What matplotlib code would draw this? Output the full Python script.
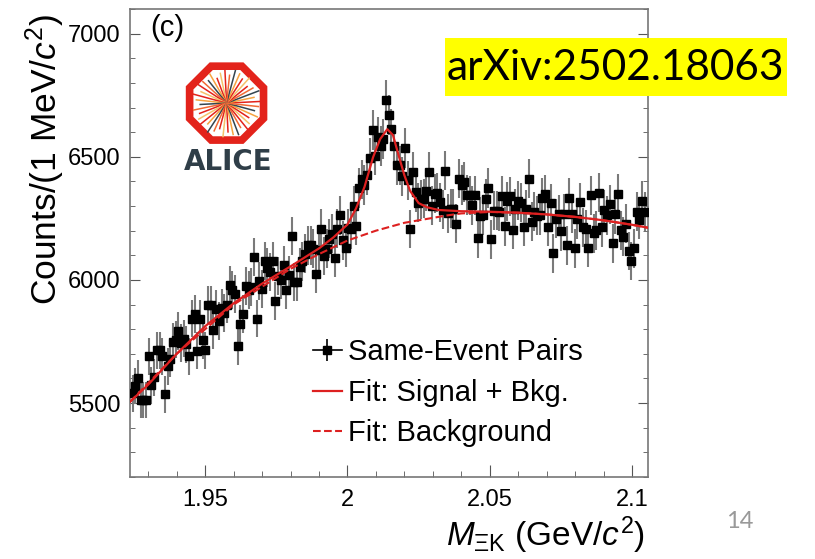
import numpy as np
import matplotlib
matplotlib.use("Agg")
import matplotlib.pyplot as plt
from matplotlib.lines import Line2D
from matplotlib.patches import RegularPolygon, Rectangle

# Same-event pair counts per bin (1 MeV/c^2), left to right
counts_a = [5539, 5569, 5600, 5512, 5512, 5512, 5690, 5573, 5604, 5715, 5715,
            5690, 5536, 5650, 5681, 5748, 5758, 5792, 5744, 5762, 5739, 5690,
            5843, 5863, 5712, 5843, 5755, 5715, 5900, 5900, 5796, 5884, 5833]
counts_b = [5888, 5866, 5900, 5978, 5958, 5942, 5731, 5820, 5863, 5975, 5961,
            5972, 6093, 5843, 5996, 5965, 6077, 6050, 6032, 6077, 5915, 6015,
            6001, 6059, 5961, 6019, 6178, 5992, 5992, 6052]
counts_c = [6075, 6107, 6140, 6140, 6127, 6026, 6120, 6208, 6097, 6127, 6168,
            6188, 6089, 6208, 6262, 6161, 6129, 6210, 6205, 6300, 6221, 6373,
            6408, 6386, 6427, 6494, 6607, 6505, 6579, 6543, 6574, 6731, 6670,
            6611, 6542, 6465, 6465, 6420, 6537, 6404, 6207, 6440, 6357, 6314,
            6328, 6330, 6360, 6438, 6302, 6350, 6355, 6316, 6285, 6444, 6270,
            6289, 6290, 6228, 6411, 6385, 6397]
counts_d = [6345, 6343, 6303, 6343, 6169, 6258, 6262, 6330, 6373, 6165, 6280,
            6280, 6276, 6341, 6217, 6319, 6339, 6204, 6290, 6322, 6314, 6216,
            6287, 6411, 6237, 6277, 6260, 6262, 6334, 6347, 6215, 6312, 6108,
            6249, 6266, 6198, 6269, 6140, 6333, 6268, 6128, 6247, 6316, 6213,
            6206, 6130, 6343, 6190, 6201, 6354, 6213, 6285, 6262, 6308, 6149,
            6266, 6350, 6201, 6175, 6228, 6117, 6077, 6128, 6276, 6245, 6322,
            6276]
counts = np.array(counts_a + counts_b + counts_c + counts_d, dtype=float)
mass_first, mass_last = 1.9245, 2.1045

# Fit: signal + background
fit_mass = [1.9236, 1.930, 1.940, 1.950, 1.960, 1.970, 1.980, 1.990, 1.995,
            2.000, 2.003, 2.006, 2.009, 2.0115, 2.014, 2.016, 2.018, 2.020,
            2.022, 2.025, 2.028, 2.032, 2.040, 2.050, 2.060, 2.070, 2.080,
            2.090, 2.100, 2.1056]
fit_total = [5505, 5575, 5700, 5812, 5905, 5985, 6055, 6128, 6172, 6225, 6290,
             6378, 6498, 6572, 6612, 6588, 6505, 6425, 6362, 6312, 6295, 6284,
             6279, 6277, 6273, 6266, 6256, 6242, 6224, 6212]

# Fit: background only
bkg_mass = [1.9236, 1.940, 1.960, 1.980, 1.990, 2.000, 2.010, 2.020, 2.030,
            2.035, 2.040, 2.050, 2.060, 2.070, 2.080, 2.090, 2.100, 2.1056]
bkg_vals = [5505, 5700, 5900, 6045, 6105, 6160, 6200, 6232, 6252, 6262, 6270,
            6276, 6273, 6266, 6256, 6242, 6224, 6212]

x_ticks = [1.95, 2.0, 2.05, 2.1]
x_ticklabels = ["1.95", "2", "2.05", "2.1"]
y_ticks = [5500, 6000, 6500, 7000]

fit_red = "#dd2020"

plt.rcParams["font.family"] = ["Liberation Sans", "DejaVu Sans"]
plt.rcParams["mathtext.fontset"] = "custom"
plt.rcParams["mathtext.rm"] = "Liberation Sans"
plt.rcParams["mathtext.it"] = "Liberation Sans:italic"

fig = plt.figure(figsize=(8.15, 5.59), dpi=100)
ax = fig.add_axes([0.1595, 0.1467, 0.6356, 0.8372])

mass = np.linspace(mass_first, mass_last, len(counts))
ax.errorbar(mass, counts, yerr=np.sqrt(counts), fmt="s", color="black", ms=5.5,
            ecolor="#7a7a7a", elinewidth=1.5, capsize=0, zorder=3)
ax.plot(bkg_mass, bkg_vals, "--", color=fit_red, lw=1.5, zorder=4)
ax.plot(fit_mass, fit_total, "-", color=fit_red, lw=1.6, zorder=5)

ax.set_xlim(1.9236, 2.1056)
ax.set_ylim(5200, 7100)
ax.set_xticks(x_ticks)
ax.set_xticklabels(x_ticklabels)
ax.set_yticks(y_ticks)
ax.xaxis.set_minor_locator(matplotlib.ticker.MultipleLocator(0.01))
ax.yaxis.set_minor_locator(matplotlib.ticker.MultipleLocator(100))

ax.tick_params(axis="both", which="both", direction="in", right=True, top=False,
               color="#555555", labelsize=17)
ax.tick_params(axis="x", which="major", length=9, pad=9)
ax.tick_params(axis="x", which="minor", length=4.5)
ax.tick_params(axis="y", which="major", length=7, pad=7)
ax.tick_params(axis="y", which="minor", length=3.5)
for sp in ax.spines.values():
    sp.set_color("#777777")
    sp.set_linewidth(1.2)

ax.set_xlabel(r"$M_{\mathrm{\Xi K}}$ (GeV/$c^{2}$)", fontsize=24, loc="right")
ax.xaxis.set_label_coords(0.995, -0.08)
ax.set_ylabel(r"Counts/(1 MeV/$c^{2}$)", fontsize=25.5, loc="top")
ax.yaxis.set_label_coords(-0.122, 0.99)

h_data = (Line2D([], [], color="black", lw=1.2),
          Line2D([], [], color="black", marker="|", ms=16, mew=1.2, ls="none"),
          Line2D([], [], color="black", marker="s", ms=5.5, ls="none"))
h_fit = Line2D([], [], color=fit_red, lw=1.6)
h_bkg = Line2D([], [], color=fit_red, lw=1.5, ls="--")
ax.legend([h_data, h_fit, h_bkg],
          ["Same-Event Pairs", "Fit: Signal + Bkg.", "Fit: Background"],
          loc="upper left", bbox_to_anchor=(0.353, 0.296), frameon=False,
          fontsize=21, handlelength=1.0, handletextpad=0.2, labelspacing=0.42,
          borderpad=0, borderaxespad=0)

fig.text(150 / 815, 1 - 28 / 559, "(c)", fontsize=21, ha="left", va="center")

# ALICE logo
ax_logo = fig.add_axes([0.225, 0.738, 0.106, 0.155])
ax_logo.set_xlim(-1.08, 1.08)
ax_logo.set_ylim(-1.08, 1.08)
ax_logo.set_aspect("equal")
ax_logo.axis("off")
ax_logo.add_patch(RegularPolygon((0, 0), 8, radius=1.0, orientation=np.pi / 8,
                                 fc="white", ec="#e3231b", lw=5.5))
ray_colors = ["#e3231b", "#f5a340", "#34454f", "#f06a35", "#e3231b", "#f5c16a"]
ray_len = [0.84, 0.70, 0.86, 0.76, 0.66, 0.84, 0.72, 0.80]
for i, a in enumerate(np.linspace(0, 2 * np.pi, 40, endpoint=False)):
    r = ray_len[i % len(ray_len)]
    ax_logo.plot([0, r * np.cos(a + 0.05)], [0, r * np.sin(a + 0.05)],
                 color=ray_colors[i % len(ray_colors)], lw=1.1)
fig.text(228 / 815, 1 - 162 / 559, "ALICE", fontsize=20, weight="bold",
         family="DejaVu Sans", color="#2f3e48", ha="center", va="center")

# arXiv tag and slide number
fig.patches.append(Rectangle((445 / 815, 1 - 96 / 559), 342 / 815, 58 / 559,
                             transform=fig.transFigure, fc="#ffff00", ec="none"))
fig.text(615 / 815, 1 - 68 / 559, "arXiv:2502.18063", fontsize=30.5, family="Lato",
         ha="center", va="center")
fig.text(740 / 815, 1 - 521 / 559, "14", fontsize=17, family="Lato",
         color="#999999", ha="center", va="center")

fig.savefig("out.png", dpi=100)
